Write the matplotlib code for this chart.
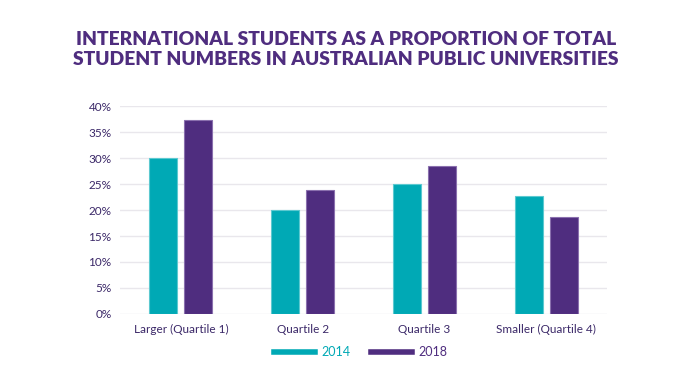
import numpy as np
import matplotlib.pyplot as plt
from matplotlib.lines import Line2D
from matplotlib.ticker import FuncFormatter

# ---------- DATA ----------
categories = ["Larger (Quartile 1)", "Quartile 2", "Quartile 3", "Smaller (Quartile 4)"]
share_2014 = [30.0, 20.0, 25.0, 22.7]
share_2018 = [37.3, 23.8, 28.4, 18.6]
years = ["2014", "2018"]
y_ticks = [0, 5, 10, 15, 20, 25, 30, 35, 40]
# --------------------------

TEAL = "#00A9B5"
PURPLE = "#4F2D7F"
TEXT = "#3B2868"
GRID = "#E9E7EC"

plt.rcParams['font.family'] = ['Lato', 'DejaVu Sans']

fig = plt.figure(figsize=(7.0, 3.85), dpi=100)
ax = fig.add_axes([120 / 700, 1 - 314 / 385, 487 / 700, 208 / 385])

x = np.arange(len(categories))
w = 0.23
off = 0.144
ax.bar(x - off, share_2014, width=w, color=TEAL, edgecolor="#5CC9D0", linewidth=0.8, zorder=3)
ax.bar(x + off, share_2018, width=w, color=PURPLE, edgecolor="#8A70AE", linewidth=0.8, zorder=3)

ax.set_xlim(-0.5, 3.5)
ax.set_ylim(0, 40)
ax.set_yticks(y_ticks)
ax.yaxis.set_major_formatter(FuncFormatter(lambda v, p: f"{v:.0f}%"))
ax.set_xticks(x)
ax.set_xticklabels(categories)
ax.grid(axis='y', color=GRID, linewidth=1, zorder=0)
ax.tick_params(axis='both', length=0, labelsize=8.5, labelcolor=TEXT)
ax.tick_params(axis='y', pad=6)
ax.tick_params(axis='x', pad=7)
for s in ax.spines.values():
    s.set_visible(False)

fig.text(0.494, 0.872, "INTERNATIONAL STUDENTS AS A PROPORTION OF TOTAL\nSTUDENT NUMBERS IN AUSTRALIAN PUBLIC UNIVERSITIES",
         ha='center', va='center', fontsize=13.9, fontweight='heavy', color=PURPLE, linespacing=1.2)

handles = [Line2D([0], [0], color=TEAL, lw=4), Line2D([0], [0], color=PURPLE, lw=4)]
fig.legend(handles, years, loc='center', bbox_to_anchor=(0.515, 0.086), ncol=2, frameon=False,
           fontsize=9, handlelength=3.3, handletextpad=0.5, columnspacing=1.6,
           labelcolor=[TEAL, PURPLE])

fig.savefig("out.png", dpi=100)
